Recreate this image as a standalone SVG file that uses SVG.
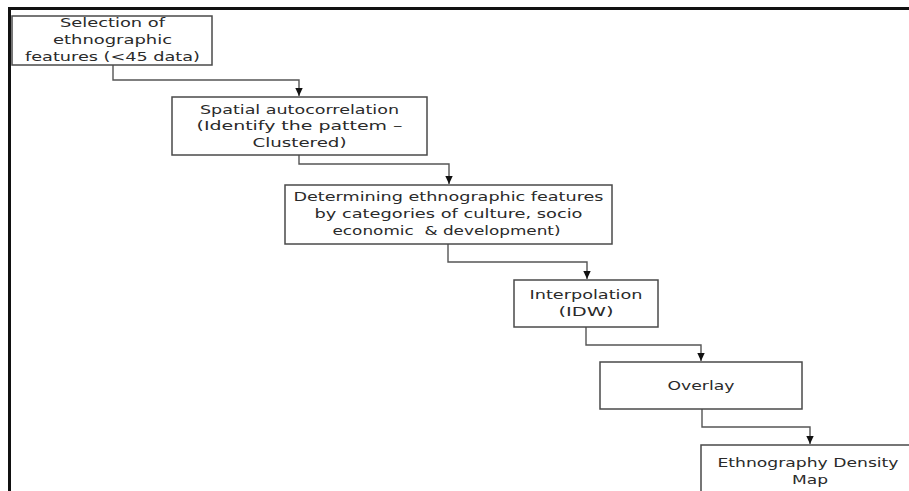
<svg xmlns="http://www.w3.org/2000/svg" width="909" height="491" viewBox="0 0 909 491">
<defs>
<style>
.box{fill:#fff;stroke:#4a4a4a;stroke-width:1.5}
.t{font-family:"DejaVu Sans",Verdana,sans-serif;font-size:13px;fill:#2a2a2a;text-anchor:middle}
.c{fill:none;stroke:#555;stroke-width:1.4}
</style>
<marker id="ah" markerUnits="userSpaceOnUse" markerWidth="9" markerHeight="9" refX="8" refY="4.5" orient="auto">
<path d="M0,0.8 L8,4.5 L0,8.2 z" fill="#111"/>
</marker>
</defs>
<rect width="909" height="491" fill="#fff"/>
<path d="M9.5,491 V8.5 H909" fill="none" stroke="#111" stroke-width="3"/>
<g id="connectors">
<path class="c" d="M113,65 V80 H299 V96" marker-end="url(#ah)"/>
<path class="c" d="M299,155 V164 H449 V184" marker-end="url(#ah)"/>
<path class="c" d="M448,244 V262 H587 V279" marker-end="url(#ah)"/>
<path class="c" d="M586,327 V345 H701 V361" marker-end="url(#ah)"/>
<path class="c" d="M702,409 V427 H810 V444" marker-end="url(#ah)"/>
</g>
<g id="n1">
<rect class="box" x="12" y="16" width="200" height="49"/>
<text class="t" x="112.5" y="27" textLength="105" lengthAdjust="spacingAndGlyphs">Selection of</text>
<text class="t" x="112.5" y="44" textLength="119" lengthAdjust="spacingAndGlyphs">ethnographic</text>
<text class="t" x="112.5" y="61" textLength="175" lengthAdjust="spacingAndGlyphs">features (&lt;45 data)</text>
</g>
<g id="n2">
<rect class="box" x="172" y="97" width="255" height="58"/>
<text class="t" x="299.5" y="114" textLength="199" lengthAdjust="spacingAndGlyphs">Spatial autocorrelation</text>
<text class="t" x="299.5" y="130" textLength="206" lengthAdjust="spacingAndGlyphs">(Identify the pattem –</text>
<text class="t" x="299.5" y="147" textLength="94" lengthAdjust="spacingAndGlyphs">Clustered)</text>
</g>
<g id="n3">
<rect class="box" x="285" y="185" width="327" height="59"/>
<text class="t" x="448.5" y="201" textLength="310" lengthAdjust="spacingAndGlyphs">Determining ethnographic features</text>
<text class="t" x="448.5" y="218" textLength="268" lengthAdjust="spacingAndGlyphs">by categories of culture, socio</text>
<text class="t" x="446.5" y="235" textLength="228" lengthAdjust="spacingAndGlyphs" xml:space="preserve">economic  &amp; development)</text>
</g>
<g id="n4">
<rect class="box" x="514" y="280" width="144" height="47"/>
<text class="t" x="586" y="299" textLength="113" lengthAdjust="spacingAndGlyphs">Interpolation</text>
<text class="t" x="586" y="316" textLength="55" lengthAdjust="spacingAndGlyphs">(IDW)</text>
</g>
<g id="n5">
<rect class="box" x="600" y="362" width="202" height="47"/>
<text class="t" x="701" y="390" textLength="67" lengthAdjust="spacingAndGlyphs">Overlay</text>
</g>
<g id="n6">
<rect class="box" x="701" y="445" width="215" height="60"/>
<text class="t" x="808" y="467" textLength="181" lengthAdjust="spacingAndGlyphs">Ethnography Density</text>
<text class="t" x="810" y="484" textLength="36" lengthAdjust="spacingAndGlyphs">Map</text>
</g>
</svg>
